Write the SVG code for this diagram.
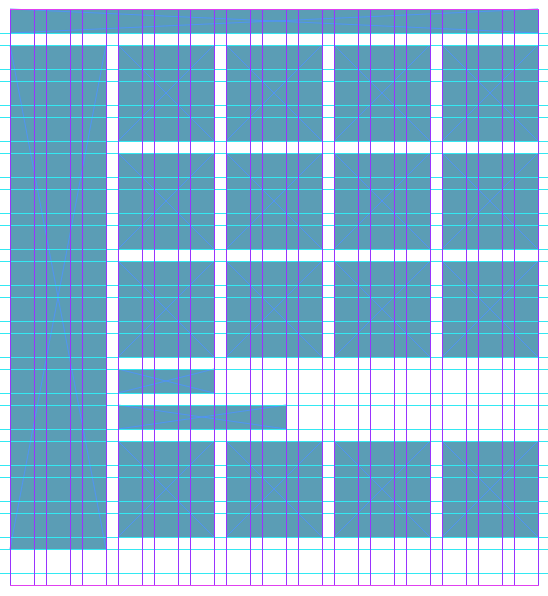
<svg xmlns="http://www.w3.org/2000/svg" width="548" height="596" viewBox="0 0 548 596">
<style>
.box{fill:#5b9db5}
.x{stroke:#4f93ff;stroke-width:1;fill:none;opacity:0.85}
.h{stroke:#33e8f2;stroke-width:1}
.v{stroke:#9933ff;stroke-width:1}
.edge{stroke:#e040f0;stroke-width:1}
</style>
<rect width="548" height="596" fill="#ffffff"/>
<g id="header"><rect class="box" x="10" y="9" width="528" height="24"/><path class="x" d="M10 9L538 33M538 9L10 33"/></g>
<g id="sidebar"><rect class="box" x="10" y="45" width="96" height="504"/><path class="x" d="M10 45L106 549M106 45L10 549"/></g>
<g id="card-1"><rect class="box" x="118" y="45" width="96" height="96"/><path class="x" d="M118 45l96 96M214 45l-96 96"/></g>
<g id="card-2"><rect class="box" x="226" y="45" width="96" height="96"/><path class="x" d="M226 45l96 96M322 45l-96 96"/></g>
<g id="card-3"><rect class="box" x="334" y="45" width="96" height="96"/><path class="x" d="M334 45l96 96M430 45l-96 96"/></g>
<g id="card-4"><rect class="box" x="442" y="45" width="96" height="96"/><path class="x" d="M442 45l96 96M538 45l-96 96"/></g>
<g id="card-5"><rect class="box" x="118" y="153" width="96" height="96"/><path class="x" d="M118 153l96 96M214 153l-96 96"/></g>
<g id="card-6"><rect class="box" x="226" y="153" width="96" height="96"/><path class="x" d="M226 153l96 96M322 153l-96 96"/></g>
<g id="card-7"><rect class="box" x="334" y="153" width="96" height="96"/><path class="x" d="M334 153l96 96M430 153l-96 96"/></g>
<g id="card-8"><rect class="box" x="442" y="153" width="96" height="96"/><path class="x" d="M442 153l96 96M538 153l-96 96"/></g>
<g id="card-9"><rect class="box" x="118" y="261" width="96" height="96"/><path class="x" d="M118 261l96 96M214 261l-96 96"/></g>
<g id="card-10"><rect class="box" x="226" y="261" width="96" height="96"/><path class="x" d="M226 261l96 96M322 261l-96 96"/></g>
<g id="card-11"><rect class="box" x="334" y="261" width="96" height="96"/><path class="x" d="M334 261l96 96M430 261l-96 96"/></g>
<g id="card-12"><rect class="box" x="442" y="261" width="96" height="96"/><path class="x" d="M442 261l96 96M538 261l-96 96"/></g>
<g id="bar-1"><rect class="box" x="118" y="369" width="96" height="24"/><path class="x" d="M118 369l96 24M214 369l-96 24"/></g>
<g id="bar-2"><rect class="box" x="118" y="405" width="168" height="24"/><path class="x" d="M118 405l168 24M286 405l-168 24"/></g>
<g id="card-13"><rect class="box" x="118" y="441" width="96" height="96"/><path class="x" d="M118 441l96 96M214 441l-96 96"/></g>
<g id="card-14"><rect class="box" x="226" y="441" width="96" height="96"/><path class="x" d="M226 441l96 96M322 441l-96 96"/></g>
<g id="card-15"><rect class="box" x="334" y="441" width="96" height="96"/><path class="x" d="M334 441l96 96M430 441l-96 96"/></g>
<g id="card-16"><rect class="box" x="442" y="441" width="96" height="96"/><path class="x" d="M442 441l96 96M538 441l-96 96"/></g>
<g id="connectors">
<g id="row-lines">
<path class="h" d="M0 33.5H548M0 45.5H548M0 69.5H548M0 81.5H548M0 105.5H548M0 117.5H548M0 141.5H548M0 153.5H548M0 177.5H548M0 189.5H548M0 213.5H548M0 225.5H548M0 249.5H548M0 261.5H548M0 285.5H548M0 297.5H548M0 321.5H548M0 333.5H548M0 357.5H548M0 369.5H548M0 393.5H548M0 405.5H548M0 429.5H548M0 441.5H548M0 465.5H548M0 477.5H548M0 501.5H548M0 513.5H548M0 537.5H548M0 549.5H548M0 573.5H548"/>
</g>
<g id="column-lines">
<path class="v" d="M10.5 9V586M34.5 9V586M46.5 9V586M70.5 9V586M82.5 9V586M106.5 9V586M118.5 9V586M142.5 9V586M154.5 9V586M178.5 9V586M190.5 9V586M214.5 9V586M226.5 9V586M250.5 9V586M262.5 9V586M286.5 9V586M298.5 9V586M322.5 9V586M334.5 9V586M358.5 9V586M370.5 9V586M394.5 9V586M406.5 9V586M430.5 9V586M442.5 9V586M466.5 9V586M478.5 9V586M502.5 9V586M514.5 9V586M538.5 9V586"/>
</g>
<path class="edge" d="M10 9.5H539M10 585.5H539"/>
</g>
</svg>
